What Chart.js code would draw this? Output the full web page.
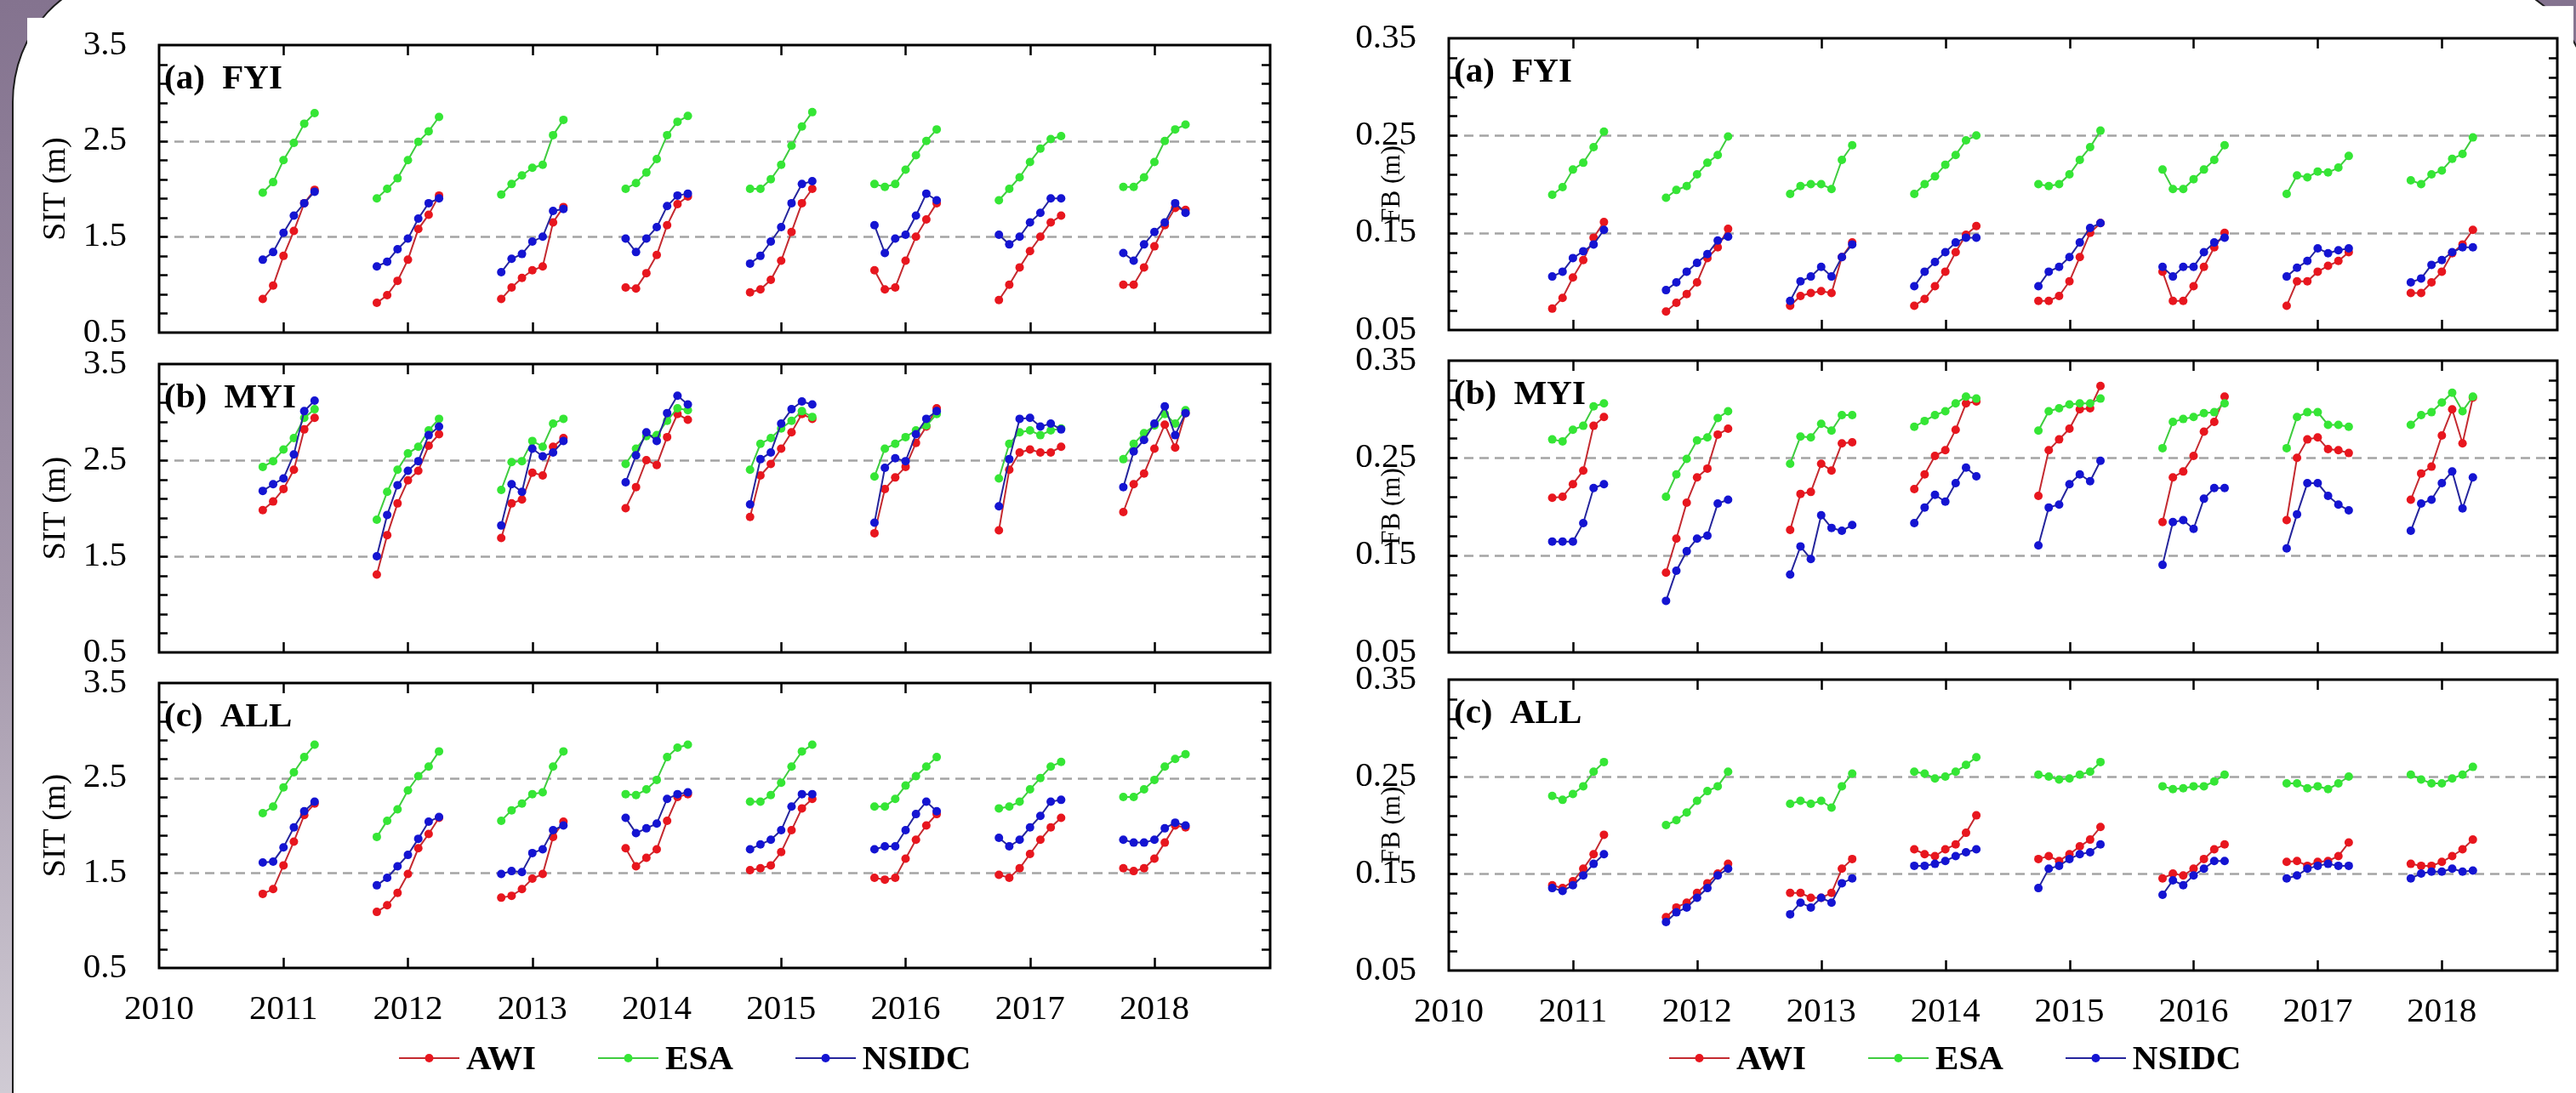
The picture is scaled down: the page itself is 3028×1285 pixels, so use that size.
<!DOCTYPE html>
<html>
<head>
<meta charset="utf-8">
<script src="https://cdn.jsdelivr.net/npm/chart.js@4.4.1/dist/chart.umd.min.js"></script>
<style>
  html, body { margin: 0; padding: 0; }
  body {
    width: 3028px; height: 1285px; position: relative; overflow: hidden;
    background: linear-gradient(180deg, #84738f 0%, #a396aa 55%, #d0cbd4 100%);
    font-family: 'Liberation Serif', serif;
  }
  #page {
    position: absolute; left: 14px; top: -30px; width: 3031px; height: 1400px;
    background: #fff; border: 2px solid #1c1c1c; box-sizing: border-box;
    border-radius: 140px 155px 0 0 / 150px 150px 0 0;
  }
  #sheet {
    position: absolute; left: 32px; top: 7px; width: 2993px; height: 1278px; background: #fff;
    clip-path: polygon(0 14px, 100% 0, 100% 100%, 0 100%);
  }
  canvas { position: absolute; }
  .legend {
    position: absolute; top: 1223px; display: flex; align-items: center;
    font: bold 41px 'Liberation Serif', serif; line-height: 1; color: #000;
  }
  .legend .item { display: flex; align-items: center; margin-right: 73px; }
  .legend svg { margin-right: 8px; }
</style>
</head>
<body>
<div id="page"></div>
<div id="sheet"></div>

<script>
// ── data ─────────────────────────────────────────────
const years = [2011, 2012, 2013, 2014, 2015, 2016, 2017, 2018];
const axisYears = [2010, 2011, 2012, 2013, 2014, 2015, 2016, 2017, 2018];
// Oct..Apr, in months relative to January (2010/11 season starts in Nov)
const months = ['Oct', 'Nov', 'Dec', 'Jan', 'Feb', 'Mar', 'Apr'];
const monthOffsets = [-3, -2, -1, 0, 1, 2, 3];
const seriesNames = ['AWI', 'ESA', 'NSIDC'];

const sitTicks = [0.5, 1.5, 2.5, 3.5];
const sitTickLabels = ['0.5', '1.5', '2.5', '3.5'];
const sitRefs = [1.5, 2.5];
const fbTicks = [0.05, 0.15, 0.25, 0.35];
const fbTickLabels = ['0.05', '0.15', '0.25', '0.35'];
const fbRefs = [0.15, 0.25];

// SIT (m), FYI
const sitFyiAwi = [
  [0.85, 0.99, 1.30, 1.56, 1.85, 1.99],
  [0.81, 0.89, 1.04, 1.26, 1.58, 1.73, 1.93],
  [0.85, 0.97, 1.07, 1.15, 1.19, 1.65, 1.81],
  [0.97, 0.96, 1.12, 1.31, 1.62, 1.84, 1.92],
  [0.92, 0.95, 1.05, 1.25, 1.55, 1.85, 2.00],
  [1.15, 0.95, 0.97, 1.25, 1.50, 1.68, 1.85],
  [0.84, 1.00, 1.18, 1.35, 1.50, 1.65, 1.72],
  [1.00, 1.00, 1.18, 1.40, 1.62, 1.80, 1.78]
];
const sitFyiEsa = [
  [1.96, 2.07, 2.30, 2.48, 2.68, 2.79],
  [1.90, 2.00, 2.11, 2.30, 2.49, 2.60, 2.75],
  [1.94, 2.05, 2.14, 2.22, 2.25, 2.56, 2.72],
  [2.00, 2.06, 2.17, 2.31, 2.56, 2.70, 2.76],
  [2.00, 2.00, 2.10, 2.25, 2.45, 2.65, 2.80],
  [2.05, 2.02, 2.05, 2.20, 2.35, 2.50, 2.62],
  [1.88, 2.00, 2.12, 2.28, 2.42, 2.52, 2.55],
  [2.02, 2.02, 2.12, 2.28, 2.50, 2.62, 2.67]
];
const sitFyiNsidc = [
  [1.26, 1.34, 1.54, 1.72, 1.85, 1.97],
  [1.19, 1.24, 1.37, 1.48, 1.69, 1.85, 1.90],
  [1.13, 1.27, 1.32, 1.45, 1.50, 1.77, 1.79],
  [1.48, 1.34, 1.48, 1.60, 1.82, 1.93, 1.95],
  [1.22, 1.30, 1.45, 1.60, 1.85, 2.05, 2.08],
  [1.62, 1.33, 1.48, 1.52, 1.72, 1.95, 1.88],
  [1.52, 1.42, 1.50, 1.65, 1.75, 1.90, 1.90],
  [1.33, 1.25, 1.42, 1.55, 1.65, 1.85, 1.75]
];

// SIT (m), MYI
const sitMyiAwi = [
  [1.98, 2.07, 2.20, 2.40, 2.82, 2.94],
  [1.31, 1.72, 2.05, 2.29, 2.39, 2.65, 2.77],
  [1.69, 2.05, 2.09, 2.37, 2.34, 2.64, 2.73],
  [2.00, 2.22, 2.50, 2.45, 2.74, 2.98, 2.92],
  [1.91, 2.34, 2.46, 2.62, 2.79, 2.98, 2.93],
  [1.74, 2.20, 2.32, 2.43, 2.68, 2.85, 3.04],
  [1.77, 2.40, 2.58, 2.61, 2.58, 2.58, 2.64],
  [1.96, 2.25, 2.36, 2.62, 2.87, 2.63, 2.99]
];
const sitMyiEsa = [
  [2.43, 2.49, 2.61, 2.73, 2.94, 3.03],
  [1.88, 2.17, 2.40, 2.57, 2.64, 2.81, 2.93],
  [2.19, 2.48, 2.49, 2.70, 2.64, 2.88, 2.93],
  [2.46, 2.62, 2.75, 2.76, 2.91, 3.04, 3.02],
  [2.40, 2.67, 2.73, 2.83, 2.91, 3.01, 2.95],
  [2.33, 2.62, 2.67, 2.74, 2.81, 2.86, 2.98],
  [2.31, 2.67, 2.79, 2.81, 2.76, 2.81, 2.83],
  [2.51, 2.67, 2.78, 2.86, 2.98, 2.88, 3.02]
];
const sitMyiNsidc = [
  [2.18, 2.25, 2.31, 2.56, 3.01, 3.12],
  [1.50, 1.93, 2.24, 2.39, 2.49, 2.76, 2.85],
  [1.82, 2.25, 2.17, 2.62, 2.54, 2.58, 2.70],
  [2.27, 2.55, 2.79, 2.70, 2.99, 3.17, 3.08],
  [2.04, 2.51, 2.58, 2.88, 3.03, 3.11, 3.08],
  [1.85, 2.42, 2.52, 2.49, 2.77, 2.93, 3.01],
  [2.02, 2.51, 2.93, 2.94, 2.85, 2.88, 2.82],
  [2.22, 2.59, 2.71, 2.88, 3.06, 2.76, 2.99]
];

// SIT (m), ALL
const sitAllAwi = [
  [1.28, 1.33, 1.58, 1.83, 2.11, 2.23],
  [1.09, 1.16, 1.29, 1.49, 1.76, 1.91, 2.08],
  [1.24, 1.26, 1.33, 1.44, 1.49, 1.88, 2.04],
  [1.76, 1.57, 1.66, 1.75, 2.05, 2.30, 2.33],
  [1.53, 1.55, 1.58, 1.72, 1.95, 2.18, 2.28],
  [1.45, 1.43, 1.45, 1.65, 1.85, 2.00, 2.12],
  [1.48, 1.45, 1.55, 1.70, 1.85, 1.98, 2.08],
  [1.55, 1.52, 1.55, 1.65, 1.82, 2.00, 1.98]
];
const sitAllEsa = [
  [2.13, 2.20, 2.40, 2.56, 2.72, 2.85],
  [1.88, 2.05, 2.17, 2.37, 2.52, 2.62, 2.78],
  [2.05, 2.16, 2.23, 2.33, 2.35, 2.62, 2.78],
  [2.33, 2.32, 2.38, 2.48, 2.72, 2.82, 2.85],
  [2.25, 2.25, 2.32, 2.45, 2.62, 2.78, 2.85],
  [2.20, 2.20, 2.28, 2.42, 2.52, 2.62, 2.72],
  [2.18, 2.20, 2.25, 2.38, 2.50, 2.62, 2.67],
  [2.30, 2.30, 2.38, 2.48, 2.62, 2.70, 2.75]
];
const sitAllNsidc = [
  [1.61, 1.62, 1.77, 1.98, 2.15, 2.25],
  [1.37, 1.45, 1.57, 1.69, 1.86, 2.04, 2.09],
  [1.49, 1.52, 1.51, 1.71, 1.75, 1.95, 2.00],
  [2.08, 1.92, 1.97, 2.02, 2.28, 2.33, 2.35],
  [1.75, 1.80, 1.85, 1.95, 2.20, 2.33, 2.33],
  [1.75, 1.78, 1.78, 1.95, 2.12, 2.25, 2.15],
  [1.87, 1.78, 1.85, 1.98, 2.10, 2.25, 2.27],
  [1.85, 1.82, 1.82, 1.85, 1.97, 2.03, 2.00]
];

// FB (m), FYI
const fbFyiAwi = [
  [0.072, 0.083, 0.104, 0.122, 0.145, 0.161],
  [0.069, 0.078, 0.087, 0.099, 0.124, 0.135, 0.154],
  [0.075, 0.085, 0.088, 0.090, 0.088, 0.125, 0.140],
  [0.075, 0.082, 0.095, 0.110, 0.130, 0.148, 0.157],
  [0.080, 0.080, 0.085, 0.100, 0.125, 0.150, 0.160],
  [0.110, 0.080, 0.080, 0.095, 0.115, 0.135, 0.150],
  [0.075, 0.100, 0.100, 0.110, 0.116, 0.121, 0.130],
  [0.088, 0.088, 0.099, 0.110, 0.129, 0.138, 0.153]
];
const fbFyiEsa = [
  [0.189, 0.197, 0.215, 0.222, 0.238, 0.254],
  [0.186, 0.194, 0.198, 0.210, 0.222, 0.230, 0.249],
  [0.190, 0.198, 0.200, 0.200, 0.195, 0.225, 0.240],
  [0.190, 0.200, 0.208, 0.220, 0.230, 0.245, 0.250],
  [0.200, 0.198, 0.200, 0.210, 0.225, 0.238, 0.255],
  [0.215, 0.195, 0.195, 0.205, 0.215, 0.225, 0.240],
  [0.190, 0.209, 0.207, 0.213, 0.212, 0.217, 0.229],
  [0.204, 0.200, 0.210, 0.214, 0.226, 0.231, 0.248]
];
const fbFyiNsidc = [
  [0.105, 0.110, 0.124, 0.131, 0.138, 0.153],
  [0.091, 0.099, 0.110, 0.119, 0.128, 0.142, 0.146],
  [0.080, 0.100, 0.105, 0.115, 0.105, 0.125, 0.138],
  [0.095, 0.110, 0.120, 0.130, 0.140, 0.145, 0.145],
  [0.095, 0.110, 0.115, 0.125, 0.140, 0.155, 0.160],
  [0.115, 0.105, 0.115, 0.115, 0.130, 0.140, 0.145],
  [0.105, 0.114, 0.121, 0.134, 0.129, 0.132, 0.134],
  [0.099, 0.103, 0.117, 0.122, 0.130, 0.135, 0.135]
];

// FB (m), MYI
const fbMyiAwi = [
  [0.209, 0.210, 0.223, 0.237, 0.283, 0.292],
  [0.132, 0.167, 0.204, 0.230, 0.239, 0.274, 0.280],
  [0.176, 0.213, 0.215, 0.244, 0.237, 0.265, 0.266],
  [0.218, 0.233, 0.252, 0.258, 0.279, 0.306, 0.308],
  [0.211, 0.258, 0.269, 0.280, 0.300, 0.301, 0.324],
  [0.184, 0.230, 0.236, 0.252, 0.277, 0.287, 0.313],
  [0.186, 0.250, 0.269, 0.271, 0.259, 0.258, 0.255],
  [0.207, 0.234, 0.241, 0.273, 0.300, 0.265, 0.312]
];
const fbMyiEsa = [
  [0.269, 0.267, 0.279, 0.283, 0.303, 0.306],
  [0.210, 0.233, 0.249, 0.268, 0.271, 0.291, 0.298],
  [0.244, 0.272, 0.271, 0.285, 0.278, 0.294, 0.294],
  [0.282, 0.288, 0.294, 0.298, 0.306, 0.313, 0.311],
  [0.278, 0.298, 0.301, 0.305, 0.306, 0.306, 0.311],
  [0.260, 0.287, 0.290, 0.292, 0.296, 0.297, 0.306],
  [0.260, 0.292, 0.297, 0.297, 0.284, 0.284, 0.282],
  [0.284, 0.294, 0.297, 0.307, 0.317, 0.298, 0.313]
];
const fbMyiNsidc = [
  [0.164, 0.164, 0.164, 0.183, 0.219, 0.223],
  [0.103, 0.134, 0.154, 0.167, 0.170, 0.203, 0.207],
  [0.130, 0.159, 0.146, 0.191, 0.178, 0.175, 0.181],
  [0.183, 0.199, 0.212, 0.205, 0.224, 0.240, 0.231],
  [0.160, 0.199, 0.202, 0.223, 0.233, 0.226, 0.247],
  [0.140, 0.184, 0.186, 0.177, 0.208, 0.219, 0.219],
  [0.157, 0.192, 0.224, 0.224, 0.211, 0.202, 0.196],
  [0.175, 0.203, 0.207, 0.224, 0.236, 0.198, 0.230]
];

// FB (m), ALL
const fbAllAwi = [
  [0.138, 0.135, 0.142, 0.155, 0.170, 0.190],
  [0.105, 0.115, 0.120, 0.130, 0.140, 0.150, 0.160],
  [0.130, 0.130, 0.125, 0.125, 0.130, 0.155, 0.165],
  [0.175, 0.170, 0.168, 0.175, 0.180, 0.192, 0.210],
  [0.165, 0.168, 0.163, 0.170, 0.178, 0.185, 0.198],
  [0.145, 0.150, 0.148, 0.155, 0.165, 0.175, 0.180],
  [0.162, 0.163, 0.158, 0.162, 0.163, 0.168, 0.182],
  [0.160, 0.158, 0.158, 0.162, 0.168, 0.175, 0.185]
];
const fbAllEsa = [
  [0.230, 0.226, 0.232, 0.240, 0.255, 0.265],
  [0.200, 0.205, 0.213, 0.225, 0.235, 0.240, 0.255],
  [0.222, 0.225, 0.222, 0.225, 0.218, 0.240, 0.253],
  [0.255, 0.253, 0.248, 0.250, 0.255, 0.262, 0.270],
  [0.252, 0.250, 0.247, 0.248, 0.252, 0.255, 0.265],
  [0.240, 0.237, 0.238, 0.240, 0.240, 0.245, 0.252],
  [0.243, 0.243, 0.238, 0.240, 0.237, 0.243, 0.250],
  [0.252, 0.247, 0.243, 0.243, 0.248, 0.252, 0.260]
];
const fbAllNsidc = [
  [0.135, 0.132, 0.138, 0.148, 0.160, 0.170],
  [0.100, 0.110, 0.115, 0.125, 0.135, 0.148, 0.155],
  [0.108, 0.120, 0.115, 0.125, 0.120, 0.140, 0.145],
  [0.158, 0.158, 0.160, 0.163, 0.168, 0.172, 0.175],
  [0.135, 0.155, 0.158, 0.165, 0.170, 0.172, 0.180],
  [0.128, 0.143, 0.138, 0.148, 0.155, 0.163, 0.163],
  [0.145, 0.148, 0.155, 0.158, 0.160, 0.158, 0.158],
  [0.145, 0.150, 0.152, 0.152, 0.155, 0.152, 0.153]
];

// ── style / layout ───────────────────────────────────
const markerColors = ['#e8161e', '#35e635', '#1414d2'];
const lineColors = ['#c42a30', '#3fcc3f', '#25259c'];
const FONT = "'Liberation Serif', serif";
const AXIS_W = 187;

Chart.defaults.font.family = FONT;
Chart.defaults.color = '#000';

const sides = [
  { x0: 187, x1: 1493, rows: [[53, 391], [428, 767], [803, 1138]],
    title: 'SIT (m)', titleSize: 38, titleX: 66, min: 0.5, max: 3.5, minor: 0.2,
    ticks: sitTicks, tickLabels: sitTickLabels, refs: sitRefs, legendLeft: 469 },
  { x0: 1703, x1: 3006, rows: [[45, 388], [424, 767], [799, 1141]],
    title: 'FB (m)', titleSize: 31, titleX: 121, min: 0.05, max: 0.35, minor: 0.02,
    ticks: fbTicks, tickLabels: fbTickLabels, refs: fbRefs, legendLeft: 1962 }
];

const panels = [
  { side: 0, row: 0, label: '(a)  FYI', series: [sitFyiAwi, sitFyiEsa, sitFyiNsidc] },
  { side: 0, row: 1, label: '(b)  MYI', series: [sitMyiAwi, sitMyiEsa, sitMyiNsidc] },
  { side: 0, row: 2, label: '(c)  ALL', series: [sitAllAwi, sitAllEsa, sitAllNsidc] },
  { side: 1, row: 0, label: '(a)  FYI', series: [fbFyiAwi, fbFyiEsa, fbFyiNsidc] },
  { side: 1, row: 1, label: '(b)  MYI', series: [fbMyiAwi, fbMyiEsa, fbMyiNsidc] },
  { side: 1, row: 2, label: '(c)  ALL', series: [fbAllAwi, fbAllEsa, fbAllNsidc] }
];

// one season per year, null between seasons so the line breaks
function toPoints(groups) {
  const pts = [];
  groups.forEach((vals, i) => {
    const offs = monthOffsets.slice(monthOffsets.length - vals.length);
    vals.forEach((v, j) => pts.push({ x: years[i] + offs[j] / 12, y: v }));
    pts.push({ x: years[i] + 0.5, y: null });
  });
  return pts;
}

// box, inward ticks, dashed reference lines, panel label, y title
const framePlugin = {
  id: 'frame',
  beforeDatasetsDraw(chart, args, o) {
    const { ctx, chartArea: a, scales: { y } } = chart;
    ctx.save();
    ctx.strokeStyle = '#a4a4a4';
    ctx.lineWidth = 2.5;
    ctx.setLineDash([11, 7]);
    o.refs.forEach(v => {
      const py = Math.round(y.getPixelForValue(v)) + 0.5;
      ctx.beginPath(); ctx.moveTo(a.left, py); ctx.lineTo(a.right, py); ctx.stroke();
    });
    ctx.restore();
  },
  afterDraw(chart, args, o) {
    const { ctx, chartArea: a, scales: { x, y } } = chart;
    ctx.save();
    ctx.strokeStyle = '#000';
    ctx.lineWidth = 2.5;
    years.forEach(yr => {
      const px = Math.round(x.getPixelForValue(yr)) + 0.5;
      ctx.beginPath();
      ctx.moveTo(px, a.bottom); ctx.lineTo(px, a.bottom - 12);
      ctx.moveTo(px, a.top); ctx.lineTo(px, a.top + 12);
      ctx.stroke();
    });
    const n = Math.round((o.max - o.min) / o.minor);
    for (let i = 1; i < n; i++) {
      const py = Math.round(y.getPixelForValue(o.min + i * o.minor)) + 0.5;
      ctx.beginPath();
      ctx.moveTo(a.left, py); ctx.lineTo(a.left + 10, py);
      ctx.moveTo(a.right, py); ctx.lineTo(a.right - 10, py);
      ctx.stroke();
    }
    ctx.lineWidth = 3;
    ctx.strokeRect(a.left, a.top, a.right - a.left, a.bottom - a.top);
    ctx.fillStyle = '#000';
    ctx.font = 'bold 41px ' + FONT;
    ctx.textBaseline = 'middle';
    ctx.fillText(o.label, a.left + 6, a.top + 40);
    // rotated axis title
    ctx.translate(o.titleX, (a.top + a.bottom) / 2);
    ctx.rotate(-Math.PI / 2);
    ctx.textAlign = 'center';
    ctx.font = o.titleSize + 'px ' + FONT;
    ctx.fillText(o.title, 0, 0);
    ctx.restore();
  }
};

panels.forEach(p => {
  const s = sides[p.side];
  const [top, bottom] = s.rows[p.row];
  const isBottom = p.row === 2;
  const cv = document.createElement('canvas');
  const w = (s.x1 - s.x0) + AXIS_W + 15;
  const h = (bottom - top) + 40 + (isBottom ? 90 : 20);
  cv.width = w; cv.height = h;
  cv.style.left = (s.x0 - AXIS_W) + 'px';
  cv.style.top = (top - 40) + 'px';
  document.body.appendChild(cv);

  new Chart(cv, {
    type: 'line',
    data: {
      datasets: p.series.map((vals, k) => ({
        label: seriesNames[k],
        data: toPoints(vals),
        borderColor: lineColors[k],
        backgroundColor: markerColors[k],
        pointBackgroundColor: markerColors[k],
        pointBorderColor: markerColors[k],
        pointBorderWidth: 0,
        pointRadius: 5,
        borderWidth: 2,
        spanGaps: false,
        order: 3 - k
      }))
    },
    options: {
      responsive: false, animation: false, devicePixelRatio: 1,
      layout: { padding: { left: 0, top: 40, right: 15, bottom: isBottom ? 0 : 20 } },
      plugins: {
        legend: { display: false }, tooltip: { enabled: false },
        frame: { refs: s.refs, min: s.min, max: s.max, minor: s.minor, label: p.label,
                 title: s.title, titleSize: s.titleSize, titleX: s.titleX }
      },
      scales: {
        x: {
          type: 'linear', min: 2010, max: 2018.93, display: isBottom,
          grid: { display: false, drawTicks: false }, border: { display: false },
          afterBuildTicks: sc => { sc.ticks = axisYears.map(v => ({ value: v })); },
          afterFit: sc => { sc.height = isBottom ? 90 : 0; sc.paddingLeft = 0; sc.paddingRight = 0; },
          ticks: { autoSkip: false, maxRotation: 0, padding: 25, font: { size: 41 },
                   callback: v => String(v) }
        },
        y: {
          min: s.min, max: s.max,
          grid: { display: false, drawTicks: false }, border: { display: false },
          afterBuildTicks: sc => { sc.ticks = s.ticks.map(v => ({ value: v })); },
          // fixed axis width; the label overhang must not shrink the plot
          afterFit: sc => { sc.width = AXIS_W; sc.paddingTop = 0; sc.paddingBottom = 0; },
          ticks: { padding: 38, font: { size: 41 }, callback: (v, i) => s.tickLabels[i] }
        }
      }
    },
    plugins: [framePlugin]
  });
});

// legends, one under each column
sides.forEach(s => {
  const lg = document.createElement('div');
  lg.className = 'legend';
  lg.style.left = s.legendLeft + 'px';
  seriesNames.forEach((name, k) => {
    const it = document.createElement('div');
    it.className = 'item';
    it.innerHTML =
      `<svg width="71" height="14"><line x1="0" y1="7" x2="71" y2="7" stroke="${lineColors[k]}" stroke-width="2"/>` +
      `<circle cx="35.5" cy="7" r="5" fill="${markerColors[k]}"/></svg><span>${name}</span>`;
    lg.appendChild(it);
  });
  document.body.appendChild(lg);
});
</script>
</body>
</html>
